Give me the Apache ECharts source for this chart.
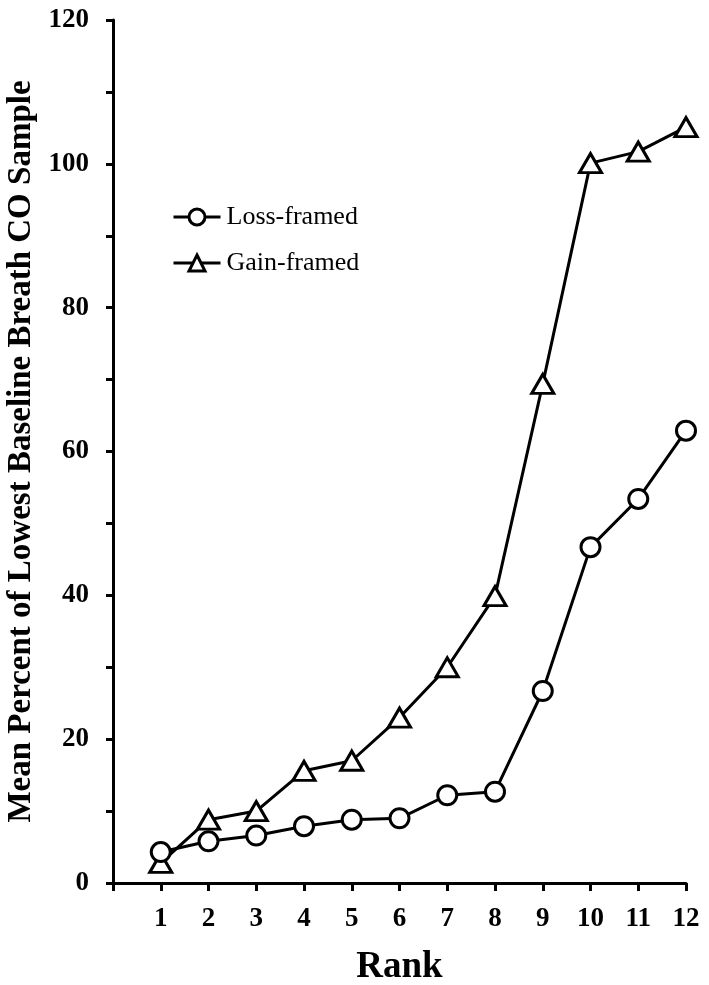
<!DOCTYPE html>
<html><head><meta charset="utf-8">
<script src="https://cdn.jsdelivr.net/npm/echarts@6/dist/echarts.min.js"></script>
<style>html,body{margin:0;padding:0;background:#fff}#c{width:709px;height:985px}</style>
</head><body><div id="c"></div>
<script>
const ranks = [1,2,3,4,5,6,7,8,9,10,11,12];
const lossFramed = [4.3,5.8,6.6,7.9,8.8,9.0,12.2,12.7,26.7,46.7,53.4,62.9];
const gainFramed = [2.8,8.8,10.0,15.6,17.0,23.0,30.0,39.9,69.4,100.1,101.7,105.1];
const seriesNames = ['Loss-framed','Gain-framed'];
const xTitle = 'Rank';
const yTitle = 'Mean Percent of Lowest Baseline Breath CO Sample';

const serif = '"Liberation Serif","Times New Roman",serif';
const chart = echarts.init(document.getElementById('c'));
const lineStyle = {color:'#000', width:3};
chart.setOption({
  animation:false,
  backgroundColor:'#fff',
  grid:{left:113, top:20, right:23, bottom:102, containLabel:false, outerBoundsMode:'none'},
  legend:{
    orient:'vertical', left:172, top:204, padding:0, itemGap:20, itemWidth:47, itemHeight:20,
    textStyle:{fontFamily:serif, fontSize:26, color:'#000', padding:[0,0,0,1]},
    lineStyle:{width:3, color:'#000'},
    itemStyle:{borderWidth:3, borderColor:'#000', color:'#fff'},
    data:seriesNames
  },
  xAxis:{
    type:'value', min:0, max:12, interval:1,
    name:xTitle, nameLocation:'middle', nameGap:66,
    nameTextStyle:{fontFamily:serif, fontSize:37, fontWeight:'bold', color:'#000'},
    axisLine:{show:true, lineStyle:{color:'#000', width:3}},
    axisTick:{show:true, length:8, lineStyle:{color:'#000', width:3}},
    axisLabel:{fontFamily:serif, fontSize:27, fontWeight:'bold', color:'#000', margin:23,
      formatter:v=> v===0 ? '' : String(v)},
    splitLine:{show:false}
  },
  yAxis:{
    type:'value', min:0, max:120, interval:10,
    name:yTitle, nameLocation:'middle', nameGap:72, nameRotate:90,
    nameTextStyle:{fontFamily:serif, fontSize:33, fontWeight:'bold', color:'#000'},
    axisLine:{show:true, lineStyle:{color:'#000', width:3}},
    axisTick:{show:true, length:7, lineStyle:{color:'#000', width:3}},
    axisLabel:{fontFamily:serif, fontSize:27, fontWeight:'bold', color:'#000', margin:24,
      formatter:v=> v%20===0 ? String(v) : ''},
    splitLine:{show:false}
  },
  series:[
    {name:seriesNames[0], type:'line', data:ranks.map((r,i)=>[r,lossFramed[i]]),
     symbol:'circle', symbolSize:19, lineStyle:lineStyle,
     itemStyle:{color:'#fff', borderColor:'#000', borderWidth:3}, z:3},
    {name:seriesNames[1], type:'line', data:ranks.map((r,i)=>[r,gainFramed[i]]),
     symbol:'triangle', symbolSize:[22,19], lineStyle:lineStyle,
     itemStyle:{color:'#fff', borderColor:'#000', borderWidth:3}, z:2}
  ]
});
</script></body></html>
